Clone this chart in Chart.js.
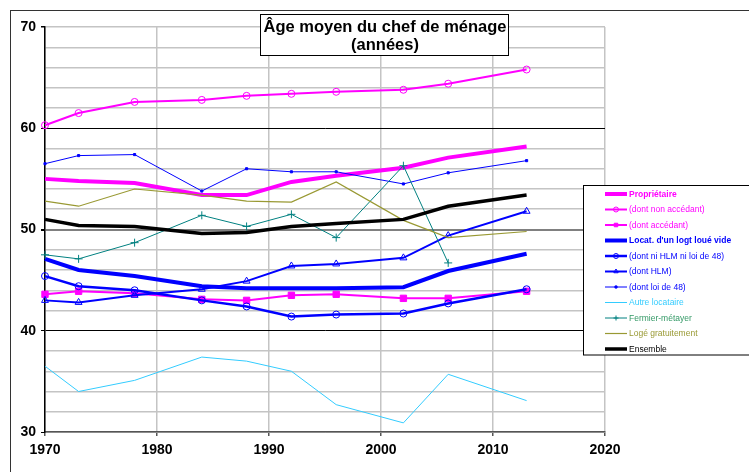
<!DOCTYPE html>
<html lang="fr">
<head>
  <meta charset="UTF-8" />
  <title>Âge moyen du chef de ménage</title>
  <script src="https://cdn.jsdelivr.net/npm/chart.js@4.4.1/dist/chart.umd.min.js"></script>
  <style>
    * { box-sizing: border-box; margin: 0; padding: 0; }
    body { background: #fff; width: 749px; height: 472px; overflow: hidden; position: relative; }
    .wrap { position: absolute; left: 0; top: 0; width: 749px; height: 472px; }
    .frame {
      position: absolute; left: 10px; top: 10px; width: 800px; height: 500px;
      border: 1.5px solid #333; pointer-events: none;
    }
  </style>
</head>
<body>
  <div class="wrap"><canvas id="chart" width="749" height="472"></canvas></div>
  <div class="frame"></div>

  <script>
    // Années d'enquête
    const years = [1970, 1973, 1978, 1984, 1988, 1992, 1996, 2002, 2006, 2013];

    // Âge moyen par statut d'occupation
    const proprietaire   = [55.0, 54.8, 54.6, 53.4, 53.4, 54.7, 55.3, 56.1, 57.1, 58.2];
    const nonAccedant    = [60.3, 61.5, 62.6, 62.8, 63.2, 63.4, 63.6, 63.8, 64.4, 65.8];
    const accedant       = [43.6, 43.9, 43.7, 43.1, 43.0, 43.5, 43.6, 43.2, 43.2, 43.9];
    const loueVide       = [47.1, 46.0, 45.4, 44.4, 44.2, 44.2, 44.2, 44.3, 45.9, 47.6];
    const niHlmNiLoi48   = [45.4, 44.4, 44.0, 43.0, 42.4, 41.4, 41.6, 41.7, 42.7, 44.1];
    const hlm            = [43.0, 42.8, 43.5, 44.1, 44.9, 46.4, 46.6, 47.2, 49.4, 51.8];
    const loi48          = [56.5, 57.3, 57.4, 53.8, 56.0, 55.7, 55.7, 54.5, 55.6, 56.8];
    const autreLocataire = [36.5, 34.0, 35.1, 37.4, 37.0, 36.0, 32.7, 30.9, 35.7, 33.1];
    const fermier        = [47.5, 47.1, 48.7, 51.4, 50.3, 51.5, 49.2, 56.3, 46.7, null];
    const logeGratuit    = [52.8, 52.3, 54.0, 53.4, 52.8, 52.7, 54.7, 50.9, 49.2, 49.8];
    const ensemble       = [51.0, 50.4, 50.3, 49.6, 49.7, 50.3, 50.6, 51.0, 52.3, 53.4];

    const xTicks = [1970, 1980, 1990, 2000, 2010, 2020];
    const yTicks = [30, 40, 50, 60, 70];
    const titleLines = ['Âge moyen du chef de ménage', '(années)'];

    const pts = arr => arr.map((v, i) => ({ x: years[i], y: v }));

    function serie(label, data, color, width, extra) {
      return Object.assign({
        label: label,
        data: pts(data),
        borderColor: color,
        backgroundColor: color,
        borderWidth: width,
        pointRadius: 0,
        pointBorderColor: color,
        pointBackgroundColor: color,
        tension: 0,
        clip: 8,
        textColor: color,
        bold: false
      }, extra || {});
    }

    const datasets = [
      serie('Propriétaire', proprietaire, '#ff00ff', 4, { bold: true }),
      serie('(dont non accédant)', nonAccedant, '#ff00ff', 2,
        { pointStyle: 'circle', pointRadius: 3.5, pointBackgroundColor: 'rgba(0,0,0,0)', pointBorderWidth: 1 }),
      serie('(dont accédant)', accedant, '#ff00ff', 2,
        { pointStyle: 'rect', pointRadius: 4.5, pointBorderWidth: 1 }),
      serie("Locat. d'un logt loué vide", loueVide, '#0000ff', 4, { bold: true }),
      serie('(dont ni HLM ni loi de 48)', niHlmNiLoi48, '#0000ff', 2.5,
        { pointStyle: 'circle', pointRadius: 3.5, pointBackgroundColor: 'rgba(0,0,0,0)', pointBorderWidth: 1 }),
      serie('(dont HLM)', hlm, '#0000ff', 2,
        { pointStyle: 'triangle', pointRadius: 4, pointBackgroundColor: 'rgba(0,0,0,0)', pointBorderWidth: 1 }),
      serie('(dont loi de 48)', loi48, '#0000ff', 1,
        { pointStyle: 'rect', pointRadius: 1.5 }),
      serie('Autre locataire', autreLocataire, '#33ccff', 1),
      serie('Fermier-métayer', fermier, '#008080', 1,
        { pointStyle: 'cross', pointRadius: 4, pointBorderWidth: 1, textColor: '#339966' }),
      serie('Logé gratuitement', logeGratuit, '#999933', 1.2),
      serie('Ensemble', ensemble, '#000000', 3.5, { textColor: '#000000' })
    ];
    // Excel : la dernière série passe au-dessus
    datasets.forEach((d, i) => { d.order = datasets.length - i; });

    const boxesPlugin = {
      id: 'boxes',
      afterDraw(chart) {
        const ctx = chart.ctx;
        ctx.save();

        // cadre du titre
        ctx.fillStyle = '#fff';
        ctx.fillRect(260.5, 14.5, 248, 41);
        ctx.strokeStyle = '#000';
        ctx.lineWidth = 1;
        ctx.strokeRect(260.5, 14.5, 248, 41);
        ctx.fillStyle = '#000';
        ctx.font = 'bold 16.5px "Liberation Sans", Arial, sans-serif';
        ctx.textAlign = 'center';
        ctx.textBaseline = 'middle';
        ctx.fillText(titleLines[0], 385, 27);
        ctx.fillText(titleLines[1], 385, 45);

        // légende
        ctx.fillStyle = '#fff';
        ctx.fillRect(583.5, 185.5, 200, 169.5);
        ctx.strokeStyle = '#000';
        ctx.lineWidth = 1;
        ctx.strokeRect(583.5, 185.5, 200, 169.5);
        ctx.textAlign = 'left';
        chart.data.datasets.forEach((d, i) => {
          const y = 194 + i * 15.5;
          ctx.strokeStyle = d.borderColor;
          ctx.lineWidth = d.borderWidth;
          ctx.beginPath();
          ctx.moveTo(605, y);
          ctx.lineTo(627, y);
          ctx.stroke();
          if (d.pointRadius > 0) {
            ctx.strokeStyle = d.pointBorderColor;
            ctx.fillStyle = d.pointBackgroundColor;
            ctx.lineWidth = d.pointBorderWidth || 1;
            Chart.helpers.drawPoint(ctx, {
              pointStyle: d.pointStyle,
              radius: Math.min(d.pointRadius, 2.5),
              borderWidth: d.pointBorderWidth || 1
            }, 616, y);
          }
          ctx.fillStyle = d.textColor;
          ctx.font = (d.bold ? 'bold ' : '') + '8.5px "Liberation Sans", Arial, sans-serif';
          ctx.fillText(d.label, 629, y + 0.5);
        });
        ctx.restore();
      }
    };

    new Chart(document.getElementById('chart'), {
      type: 'line',
      data: { datasets: datasets },
      plugins: [boxesPlugin],
      options: {
        responsive: false,
        animation: false,
        events: [],
        layout: { padding: { left: 0, top: 27, right: 144, bottom: 0 } },
        plugins: { legend: { display: false }, tooltip: { enabled: false }, title: { display: false } },
        scales: {
          x: {
            type: 'linear',
            min: xTicks[0],
            max: xTicks[xTicks.length - 1],
            afterFit: s => { s.height = 40; },
            afterBuildTicks: s => { s.ticks = xTicks.map(v => ({ value: v })); },
            border: { color: '#555', width: 1.5 },
            grid: { color: '#c4c4c4', lineWidth: 1.5, tickLength: 4, tickColor: '#555' },
            ticks: {
              color: '#000',
              padding: 6,
              font: { family: '"Liberation Sans", Arial, sans-serif', size: 14, weight: 'bold' },
              callback: v => String(v)
            }
          },
          y: {
            min: yTicks[0],
            max: yTicks[yTicks.length - 1],
            afterFit: s => { s.width = 45; },
            border: { color: '#000', width: 1.5 },
            grid: {
              tickLength: 4,
              color: c => {
                const v = c.tick.value;
                if (v === 50) return '#808080';
                if (v === 40 || v === 60) return '#000';
                return '#c4c4c4';
              },
              lineWidth: c => (c.tick.value === 50 ? 2 : (c.tick.value % 10 === 0 && c.tick.value !== 70 ? 1 : 1.5)),
              tickColor: c => (yTicks.includes(c.tick.value) ? '#000' : 'rgba(0,0,0,0)')
            },
            ticks: {
              stepSize: 2,
              autoSkip: false,
              color: '#000',
              padding: 5,
              font: { family: '"Liberation Sans", Arial, sans-serif', size: 14, weight: 'bold' },
              callback: v => (yTicks.includes(v) ? String(v) : '')
            }
          }
        }
      }
    });
  </script>
</body>
</html>
